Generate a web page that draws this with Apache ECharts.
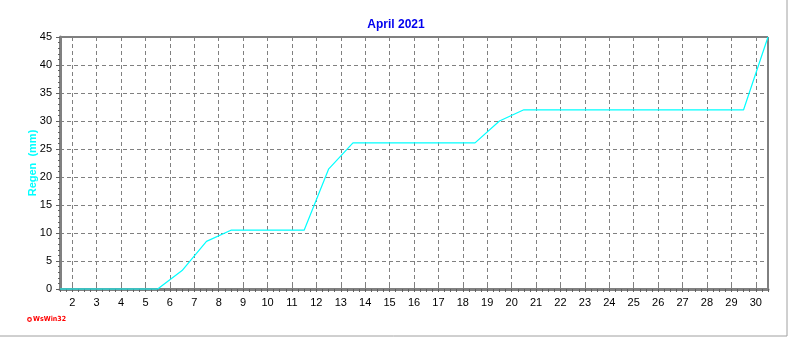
<!DOCTYPE html>
<html>
<head>
<meta charset="utf-8">
<script src="https://cdn.jsdelivr.net/npm/echarts@6/dist/echarts.min.js"></script>
<style>
html,body{margin:0;padding:0;background:#fff;}
#c{width:792px;height:337px;}
</style>
</head>
<body>
<div id="c"></div>
<script>
const titleText = 'April 2021';
const yAxisName = 'Regen  (mm)';
const logoText = 'WsWin32';
// x positions (day of month, boundaries between days)
const dayX = [1.5, 2.5, 3.5, 4.5, 5.5, 6.5, 7.5, 8.5, 9.5, 10.5, 11.5, 12.5, 13.5, 14.5, 15.5,
              16.5, 17.5, 18.5, 19.5, 20.5, 21.5, 22.5, 23.5, 24.5, 25.5, 26.5, 27.5, 28.5, 29.5, 30.5];
// cumulative rain (mm)
const rainMm = [0, 0, 0, 0, 0, 3.3, 8.5, 10.5, 10.5, 10.5, 10.5, 21.4, 26.1, 26.1, 26.1,
                26.1, 26.1, 26.1, 30.0, 32.0, 32.0, 32.0, 32.0, 32.0, 32.0, 32.0, 32.0, 32.0, 32.0, 45.0];
// x tick labels
const dayTicks = [2, 3, 4, 5, 6, 7, 8, 9, 10, 11, 12, 13, 14, 15, 16, 17, 18, 19, 20, 21, 22, 23, 24, 25, 26, 27, 28, 29, 30];
const yMin = 0, yMax = 45, yStep = 5;

const quarterTicks = [];
for (let d = dayX[0]; d <= dayX[dayX.length - 1] + 1e-9; d += 0.25) quarterTicks.push(+d.toFixed(2));

const chart = echarts.init(document.getElementById('c'), null, {renderer: 'canvas'});
const font = 'Liberation Sans, Arial, sans-serif';
chart.setOption({
  animation: false,
  backgroundColor: '#fff',
  title: {
    text: titleText, left: 'center', top: 14,
    textStyle: {color: '#0000ee', fontSize: 12, fontWeight: 'bold', fontFamily: font}
  },
  grid: {left: 60, right: 24, top: 37, bottom: 48, show: true, borderColor: '#000', borderWidth: 1, backgroundColor: 'transparent'},
  xAxis: [{
    type: 'value', min: dayX[0], max: dayX[dayX.length - 1],
    axisLine: {show: true, lineStyle: {color: '#808080', width: 3}},
    axisTick: {show: true, inside: true, length: 4, customValues: dayTicks, lineStyle: {color: '#808080'}},
    axisLabel: {customValues: dayTicks, color: '#000', fontSize: 11, fontFamily: font, margin: 8},
    splitLine: {show: true, lineStyle: {color: '#808080', type: [4, 3], width: 1}}
  }, {
    type: 'value', min: dayX[0], max: dayX[dayX.length - 1], position: 'bottom',
    axisLine: {show: false},
    axisTick: {show: true, length: 3, customValues: quarterTicks, lineStyle: {color: '#606060'}},
    axisLabel: {show: false},
    splitLine: {show: false}
  }],
  yAxis: {
    type: 'value', min: yMin, max: yMax, interval: yStep,
    name: yAxisName, nameLocation: 'middle', nameGap: 22, nameRotate: 90, nameMoveOverlap: false,
    nameTextStyle: {color: '#00ffff', fontSize: 11, fontWeight: 'bold', fontFamily: font},
    axisLine: {show: true, lineStyle: {color: '#808080', width: 3}},
    axisTick: {show: true, length: 4, lineStyle: {color: '#606060'}},
    minorTick: {show: true, splitNumber: 5, length: 2, lineStyle: {color: '#606060'}},
    axisLabel: {color: '#000', fontSize: 11, fontFamily: font, margin: 8},
    splitLine: {show: true, lineStyle: {color: '#808080', type: [4, 3], width: 1}}
  },
  graphic: [
    {type: 'line', shape: {x1: 787, y1: 0, x2: 787, y2: 336}, style: {stroke: '#a0a0a0', lineWidth: 1}},
    {type: 'line', shape: {x1: 0, y1: 336, x2: 787, y2: 336}, style: {stroke: '#a0a0a0', lineWidth: 1}},
    {type: 'circle', shape: {cx: 29.5, cy: 319.5, r: 1.8}, style: {fill: 'none', stroke: '#ff0000', lineWidth: 1.2}},
    {type: 'text', left: 33, top: 316, style: {text: logoText, fill: '#ff0000', font: 'bold 7px "Liberation Sans Narrow", "DejaVu Sans Condensed", Arial, sans-serif'}}
  ],
  series: [{
    type: 'line', xAxisIndex: 0,
    data: dayX.map((x, i) => [x, rainMm[i]]),
    showSymbol: false, symbol: 'none', clip: false, z: 5,
    lineStyle: {color: '#00ffff', width: 1.2}
  }]
});
</script>
</body>
</html>
